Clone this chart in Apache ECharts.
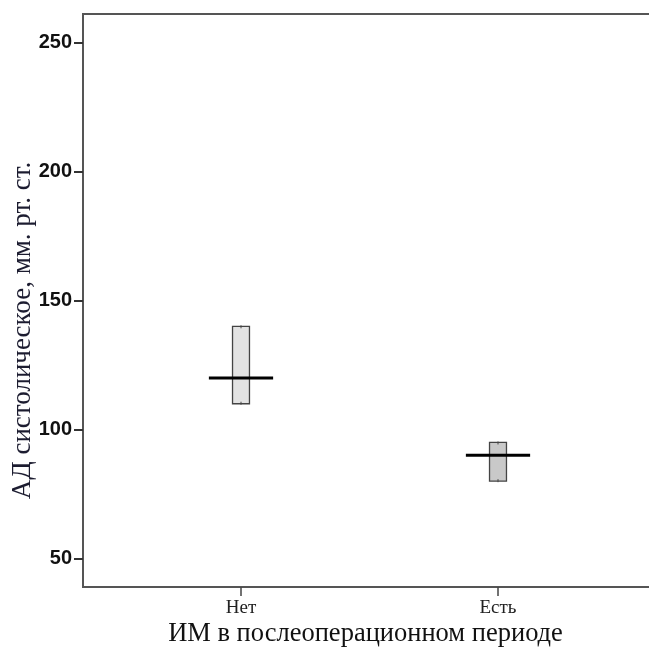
<!DOCTYPE html>
<html>
<head>
<meta charset="utf-8">
<script src="https://cdn.jsdelivr.net/npm/echarts@6/dist/echarts.min.js"></script>
<style>
html,body{margin:0;padding:0;background:#fff;}
#chart{width:649px;height:648px;}
</style>
</head>
<body>
<div id="chart"></div>
<script>
const categories = ['Нет', 'Есть'];
const lowValues = [110, 80];
const q1Values = [110, 80];
const medianValues = [120, 90];
const q3Values = [140, 95];
const highValues = [140, 95];
const boxColors = ['#e3e3e3', '#c9c9c9'];
const yTicks = [50, 100, 150, 200, 250];
const yMin = 39, yMax = 261;

const chart = echarts.init(document.getElementById('chart'), null, {renderer: 'canvas'});

const data = categories.map((c, i) => [i, lowValues[i], q1Values[i], medianValues[i], q3Values[i], highValues[i]]);

const option = {
  animation: false,
  backgroundColor: '#fff',
  grid: [
    {left: 83, top: 14, right: -10, bottom: 61, show: true, borderColor: '#555', borderWidth: 2,
      backgroundColor: 'transparent', outerBoundsMode: 'none', containLabel: false},
    {left: 112.5, top: 14, right: 22.5, bottom: 61, outerBoundsMode: 'none', containLabel: false}
  ],
  xAxis: [
    {gridIndex: 0, type: 'value', min: 0, max: 1, show: false},
    {
      gridIndex: 1, type: 'category', data: categories,
      axisLine: {show: false},
      axisTick: {show: true, alignWithLabel: true, length: 9, lineStyle: {color: '#444', width: 1.5}},
      axisLabel: {margin: 12, fontFamily: 'Liberation Serif', fontSize: 19, color: '#222'},
      name: 'ИМ в послеоперационном периоде', nameLocation: 'middle', nameGap: 34, nameMoveOverlap: false,
      nameTextStyle: {fontFamily: 'Liberation Serif', fontSize: 26.5, color: '#111', padding: [0, 8, 0, 0]}
    }
  ],
  yAxis: [
    {
      gridIndex: 0, type: 'value', min: yMin, max: yMax,
      axisLine: {show: true, lineStyle: {color: '#555', width: 2}},
      axisTick: {show: true, length: 9, customValues: yTicks, lineStyle: {color: '#333', width: 2}},
      axisLabel: {customValues: yTicks, margin: 11, fontFamily: 'Liberation Sans', fontWeight: 'bold', fontSize: 20, color: '#111'},
      splitLine: {show: false},
      name: 'АД систолическое, мм. рт. ст.', nameLocation: 'middle', nameGap: 47, nameMoveOverlap: false,
      nameTextStyle: {fontFamily: 'Liberation Serif', fontSize: 27, color: '#1c1c30', padding: [0, 60, 0, 0]}
    },
    {gridIndex: 1, type: 'value', min: yMin, max: yMax, show: false, splitLine: {show: false}}
  ],
  series: [{
    type: 'custom',
    xAxisIndex: 1, yAxisIndex: 1,
    data: data,
    encode: {x: 0, y: [1, 2, 3, 4, 5]},
    renderItem: function (params, api) {
      const idx = api.value(0);
      const band = api.size([1, 0])[0];
      const pLow = api.coord([idx, api.value(1)]);
      const pQ1 = api.coord([idx, api.value(2)]);
      const pMed = api.coord([idx, api.value(3)]);
      const pQ3 = api.coord([idx, api.value(4)]);
      const pHigh = api.coord([idx, api.value(5)]);
      const bw = band * 0.066;
      const mw = band * 0.25;
      const cx = pMed[0];
      return {
        type: 'group',
        children: [
          {type: 'line', shape: {x1: cx, y1: pHigh[1], x2: cx, y2: pQ3[1]}, style: {stroke: '#444', lineWidth: 1}},
          {type: 'line', shape: {x1: cx, y1: pQ1[1], x2: cx, y2: pLow[1]}, style: {stroke: '#444', lineWidth: 1}},
          {type: 'rect', shape: {x: cx - bw / 2, y: pQ3[1], width: bw, height: pQ1[1] - pQ3[1]},
            style: {fill: boxColors[idx], stroke: '#444', lineWidth: 1.3}},
          {type: 'line', shape: {x1: cx, y1: pQ3[1] - 1, x2: cx, y2: pQ3[1] + 2}, style: {stroke: '#444', lineWidth: 1}},
          {type: 'line', shape: {x1: cx, y1: pQ1[1] - 2, x2: cx, y2: pQ1[1] + 1}, style: {stroke: '#444', lineWidth: 1}},
          {type: 'line', shape: {x1: cx - mw / 2, y1: pMed[1], x2: cx + mw / 2, y2: pMed[1]}, style: {stroke: '#000', lineWidth: 3}}
        ]
      };
    }
  }]
};
chart.setOption(option);
</script>
</body>
</html>
